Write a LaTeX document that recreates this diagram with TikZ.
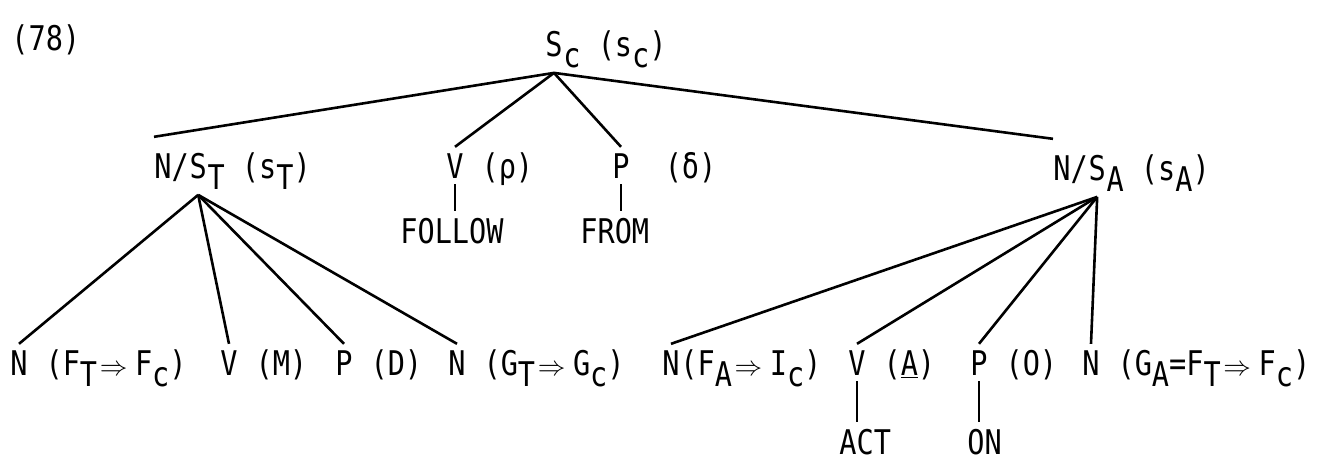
\documentclass[tikz,border=0pt]{standalone}
\usepackage{fontspec}
\usepackage{graphicx}
\newfontfamily\typefont{DejaVu Sans Mono}[FakeStretch=0.84]
\newcommand{\lo}[1]{\raisebox{-0.35em}{#1}}
\newcommand{\imp}{\hspace{0.08em}\scalebox{0.8}{$\Rightarrow$}\hspace{0.22em}}
\begin{document}
\begin{tikzpicture}
  [x=0.5pt,y=-0.5pt,
   every node/.style={font=\typefont\fontsize{17}{20}\selectfont,inner sep=0pt,anchor=base west},
   hd/.style={inner ysep=3pt},
   bighd/.style={inner ysep=8pt},
   branch/.style={line width=1.3pt}]
  \useasboundingbox (0,0) rectangle (1324,462);

  \node (num) at (11,50) {(78)};

  % root
  \node[bighd] (sc) at (545,56) {S};
  \node at (sc.base east) {\lo{c} (s\lo{c})};

  % second row
  \node[bighd] (nstN) at (154,178) {N/};
  \node[bighd] (nstS) at (nstN.base east) {S};
  \node at (nstS.base east) {\lo{T} (s\lo{T})};
  \node[hd] (v2) at (446,178) {V};
  \node at (v2.base east) {\ (ρ)};
  \node[hd] (p2) at (612,178) {P};
  \node at (p2.base east) {\ \ (δ)};
  \node[bighd] (nsaN) at (1053,180) {N/};
  \node[bighd] (nsaS) at (nsaN.base east) {S};
  \node at (nsaS.base east) {\lo{A} (s\lo{A})};
  \node[hd] (follow) at (400,243) {FOLLOW};
  \node[hd] (frm) at (580,243) {FROM};

  % third row
  \node[hd] (n1) at (10,375) {N};
  \node at (n1.base east) {\ (F\lo{T}\imp F\lo{c})};
  \node[hd] (v1) at (220,375) {V};
  \node at (v1.base east) {\ (M)};
  \node[hd] (p1) at (335,375) {P};
  \node at (p1.base east) {\ (D)};
  \node[hd] (n2) at (448,375) {N};
  \node at (n2.base east) {\ (G\lo{T}\imp G\lo{c})};
  \node[hd] (n3) at (662,375) {N};
  \node at (n3.base east) {(F\lo{A}\imp I\lo{c})};
  \node[hd] (v3) at (848,375) {V};
  \node at (v3.base east) {\ (\underline{A})};
  \node[hd] (p3) at (970,375) {P};
  \node at (p3.base east) {\ (O)};
  \node[hd] (n4) at (1082,375) {N};
  \node at (n4.base east) {\ (G\lo{A}=F\lo{T}\imp F\lo{c})};

  % fourth row
  \node[hd] (act) at (839,454) {ACT};
  \node[hd] (on) at (967,454) {ON};

  \foreach \from/\to in {sc.south/nstN.north west, sc.south/v2.north, sc.south/p2.north,
      sc.south/nsaN.north west,
      nstS.south/n1.north, nstS.south/v1.north, nstS.south/p1.north, nstS.south/n2.north,
      nsaS.south/n3.north, nsaS.south/v3.north, nsaS.south/p3.north, nsaS.south/n4.north}
    \draw[branch] (\from) -- (\to);

  \foreach \from/\to in {v2/follow, p2/frm, v3/act, p3/on}
    \draw[branch] (\from.south) -- (\from.south |- \to.north);

\end{tikzpicture}
\end{document}
